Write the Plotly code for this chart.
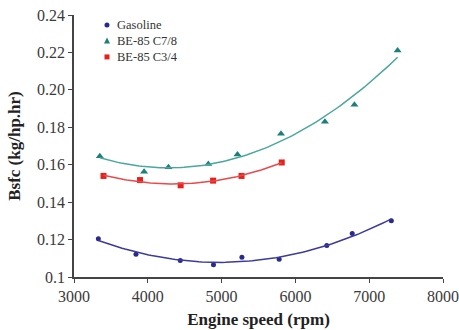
import numpy as np
import plotly.graph_objects as go

# Data
gas_x = [3330, 3840, 4440, 4890, 5275, 5780, 6425, 6770, 7300]
gas_y = [0.1205, 0.1122, 0.1088, 0.1065, 0.1105, 0.1095, 0.1168, 0.1232, 0.1300]
c78_x = [3350, 3950, 4280, 4820, 5215, 5805, 6400, 6800, 7385]
c78_y = [0.1645, 0.1563, 0.1587, 0.1604, 0.1655, 0.1765, 0.1830, 0.1920, 0.2210]
c34_x = [3400, 3895, 4445, 4885, 5270, 5815]
c34_y = [0.1540, 0.1518, 0.1490, 0.1515, 0.1540, 0.1612]

x_ticks = [3000, 4000, 5000, 6000, 7000, 8000]
y_ticks = [0.10, 0.12, 0.14, 0.16, 0.18, 0.20, 0.22, 0.24]
y_tick_text = ["0.1", "0.12", "0.14", "0.16", "0.18", "0.20", "0.22", "0.24"]

series = [
    ("Gasoline", gas_x, gas_y, "#2a2a8c", "#3b3b9e", "circle", 5, 2),
    ("BE-85 C7/8", c78_x, c78_y, "#1b8078", "#4aa79f", "triangle-up", 7, 2),
    ("BE-85 C3/4", c34_x, c34_y, "#e8201c", "#e84a4c", "square", 6, 2),
]

font_serif = "Liberation Serif"
fig = go.Figure()
for name, xs, ys, mcol, lcol, sym, msz, deg in series:
    fig.add_trace(go.Scatter(x=xs, y=ys, mode="markers", name=name,
                             marker=dict(symbol=sym, size=msz, color=mcol), showlegend=False))
for name, xs, ys, mcol, lcol, sym, msz, deg in series:
    coef = np.polyfit(xs, ys, deg)
    xf = np.linspace(min(xs), max(xs), 100)
    fig.add_trace(go.Scatter(x=xf, y=np.polyval(coef, xf), mode="lines",
                             line=dict(color=lcol, width=1.5), showlegend=False,
                             hoverinfo="skip"))

# Manual legend (paper coordinates)
leg_y = [0.962, 0.901, 0.840]
leg_mx = 0.0894
leg_tx = 0.112
shapes = []
annotations = []
for (name, xs, ys, mcol, lcol, sym, msz, deg), yy in zip(series, leg_y):
    if sym == "circle":
        shapes.append(dict(type="circle", xref="paper", yref="paper", xsizemode="pixel",
                           ysizemode="pixel", xanchor=leg_mx, yanchor=yy, x0=-2.5, x1=2.5,
                           y0=-2.5, y1=2.5, fillcolor=mcol, line=dict(width=0)))
    elif sym == "square":
        shapes.append(dict(type="rect", xref="paper", yref="paper", xsizemode="pixel",
                           ysizemode="pixel", xanchor=leg_mx, yanchor=yy, x0=-2.5, x1=2.5,
                           y0=-2.5, y1=2.5, fillcolor=mcol, line=dict(width=0)))
    else:
        shapes.append(dict(type="path", xref="paper", yref="paper", xsizemode="pixel",
                           ysizemode="pixel", xanchor=leg_mx, yanchor=yy,
                           path="M -3,-2.5 L 3,-2.5 L 0,3.5 Z", fillcolor=mcol, line=dict(width=0)))
    annotations.append(dict(text=name, xref="paper", yref="paper", x=leg_tx, y=yy,
                            xanchor="left", yanchor="middle", showarrow=False,
                            font=dict(family=font_serif, size=12.5, color="#333")))

fig.update_layout(
    width=459, height=330,
    margin=dict(l=74, r=16, t=15, b=53),
    paper_bgcolor="white", plot_bgcolor="white",
    font=dict(family=font_serif, size=16, color="#3a3a3a"),
    shapes=shapes, annotations=annotations,
    showlegend=False,
)
fig.update_xaxes(range=[3000, 8000], tickvals=x_ticks, showgrid=False, zeroline=False,
                 showline=True, linecolor="#444", linewidth=1.5, ticks="outside",
                 ticklen=4, tickcolor="#444", automargin=False,
                 title=dict(text="<b>Engine speed (rpm)</b>", font=dict(size=17, color="#222"), standoff=9))
fig.update_yaxes(range=[0.10, 0.24], tickvals=y_ticks, ticktext=y_tick_text, showgrid=False,
                 zeroline=False, showline=True, linecolor="#444", linewidth=1.5,
                 ticks="outside", ticklen=4, tickcolor="#444", automargin=False,
                 title=dict(text="<b>Bsfc (kg/hp.hr)</b>", font=dict(size=17, color="#222"), standoff=12))

fig.write_html("out.html")
